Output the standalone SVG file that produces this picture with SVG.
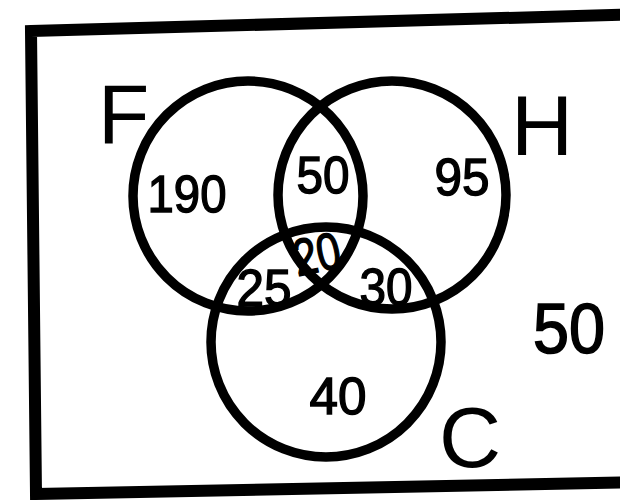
<svg xmlns="http://www.w3.org/2000/svg" width="620" height="500" viewBox="0 0 620 500">
  <style>
    .frame { fill: none; stroke: #000; stroke-width: 12; stroke-linejoin: miter; }
    .set { fill: none; stroke: #000; stroke-width: 9.5; }
    .name { font-family: "Liberation Sans", Arial, sans-serif; font-size: 86px; fill: #000; }
    .num { font-family: "Liberation Sans", Arial, sans-serif; font-size: 52px; fill: #000; stroke: #000; stroke-width: 1.4; text-anchor: middle; }
  </style>
  <rect width="620" height="500" fill="#fff"/>
  <g id="universe">
    <polygon class="frame" points="31,31 650,14 650,482 36,494"/>
    <text class="num" x="569" y="353" style="font-size:70px; stroke-width:1.6" textLength="72" lengthAdjust="spacingAndGlyphs">50</text>
  </g>
  <g id="set-F">
    <circle class="set" cx="248" cy="196" r="115"/>
    <text class="name" x="98" y="143" style="font-size:84px">F</text>
  </g>
  <g id="set-H">
    <circle class="set" cx="392" cy="195" r="114"/>
    <text class="name" x="511" y="155">H</text>
  </g>
  <g id="set-C">
    <circle class="set" cx="326" cy="342" r="115"/>
    <text class="name" x="439" y="467">C</text>
  </g>
  <g id="regions">
    <text class="num" x="187" y="212" textLength="79" lengthAdjust="spacingAndGlyphs">190</text>
    <text class="num" x="323" y="193" textLength="53" lengthAdjust="spacingAndGlyphs">50</text>
    <text class="num" x="462" y="195" textLength="55" lengthAdjust="spacingAndGlyphs">95</text>
    <text class="num" x="317" y="272" textLength="47" lengthAdjust="spacingAndGlyphs" transform="rotate(-12 317 255)">20</text>
    <text class="num" x="264" y="306" textLength="55" lengthAdjust="spacingAndGlyphs">25</text>
    <text class="num" x="386" y="305" textLength="53" lengthAdjust="spacingAndGlyphs">30</text>
    <text class="num" x="338" y="414" textLength="57" lengthAdjust="spacingAndGlyphs">40</text>
  </g>
</svg>
